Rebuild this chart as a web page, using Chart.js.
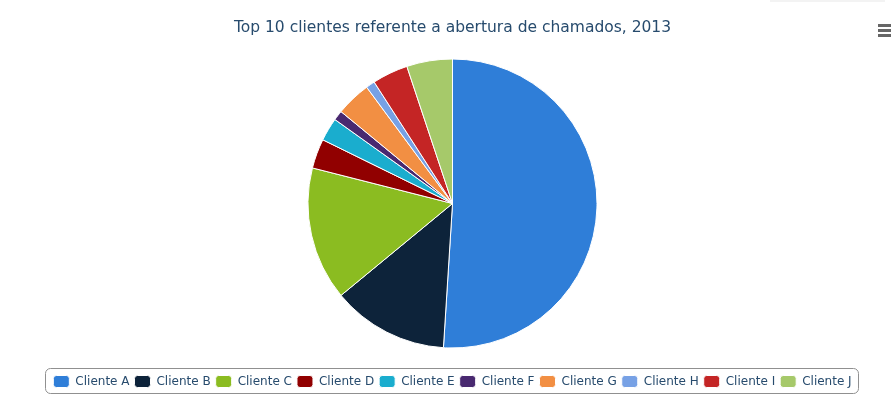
<!DOCTYPE html>
<html>
<head>
<meta charset="utf-8">
<script src="https://cdn.jsdelivr.net/npm/chart.js@4"></script>
<style>
  html, body { margin: 0; padding: 0; background: #fff; }
  #wrap { width: 891px; height: 399px; }
</style>
</head>
<body>
<div id="wrap"><canvas id="pieChart" width="891" height="399"></canvas></div>
<script>
// dados (% de chamados por cliente)
const clientes = ["Cliente A", "Cliente B", "Cliente C", "Cliente D", "Cliente E",
                  "Cliente F", "Cliente G", "Cliente H", "Cliente I", "Cliente J"];
const chamados = [50.9, 13.0, 14.9, 3.3, 2.6, 1.1, 3.9, 1.0, 4.0, 5.1];
const cores = ["#2f7ed8", "#0d233a", "#8bbc21", "#910000", "#1aadce",
               "#492970", "#f28f43", "#77a1e5", "#c42525", "#a6c96a"];
const titulo = "Top 10 clientes referente a abertura de chamados, 2013";

const fonte = "'Lucida Grande', 'DejaVu Sans', sans-serif";

// moldura da legenda + botao de menu + credito
const extras = {
  id: "extras",
  afterDraw(chart) {
    const ctx = chart.ctx;
    const boxes = chart.legend.legendHitBoxes;
    if (boxes && boxes.length) {
      let l = Infinity, r = -Infinity;
      boxes.forEach(b => { l = Math.min(l, b.left); r = Math.max(r, b.left + b.width); });
      const t = boxes[0].top;
      const x = Math.round(l - 8) + 0.5, y = Math.round(t - 7.5) + 0.5;
      const w = Math.round(r + 6) - Math.round(l - 8), h = 25;
      ctx.save();
      ctx.strokeStyle = "#909090";
      ctx.lineWidth = 1;
      ctx.beginPath();
      ctx.roundRect(x, y, w, h, 5);
      ctx.stroke();
      ctx.restore();
    }
    ctx.save();
    ctx.fillStyle = "#f3f3f3";
    ctx.fillRect(770, 0, 115, 2);
    ctx.fillStyle = "#666";
    [24, 29, 34].forEach(yy => ctx.fillRect(878, yy, 14, 3));
    ctx.fillStyle = "#909090";
    ctx.font = "9px " + fonte;
    ctx.textAlign = "right";
    ctx.fillText("Highcharts.com", 880, 404);
    ctx.restore();
  }
};

document.addEventListener("DOMContentLoaded", () => {
  const pieCanvas = document.getElementById("pieChart");
  new Chart(pieCanvas, {
    type: "pie",
    data: {
      labels: clientes,
      datasets: [{
        data: chamados,
        backgroundColor: cores,
        borderColor: "#ffffff",
        borderWidth: 1
      }]
    },
    options: {
      responsive: false,
      animation: false,
      devicePixelRatio: 1,
      layout: { padding: { left: 14, right: 0, top: 0, bottom: 1.5 } },
      plugins: {
        title: {
          display: true,
          text: titulo,
          color: "#274b6d",
          font: { family: fonte, size: 15.5, weight: "normal", lineHeight: 1.2 },
          padding: { top: 18.3, bottom: 21.6 }
        },
        legend: {
          position: "bottom",
          title: { display: true, text: " ", font: { size: 1, lineHeight: 1 }, padding: { top: 21, bottom: 0 } },
          labels: {
            color: "#274b6d",
            font: { family: fonte, size: 12 },
            boxWidth: 16,
            boxHeight: 12,
            padding: 5,
            useBorderRadius: true,
            borderRadius: 3
          }
        },
        tooltip: { enabled: false }
      }
    },
    plugins: [extras]
  });
});
</script>
</body>
</html>
